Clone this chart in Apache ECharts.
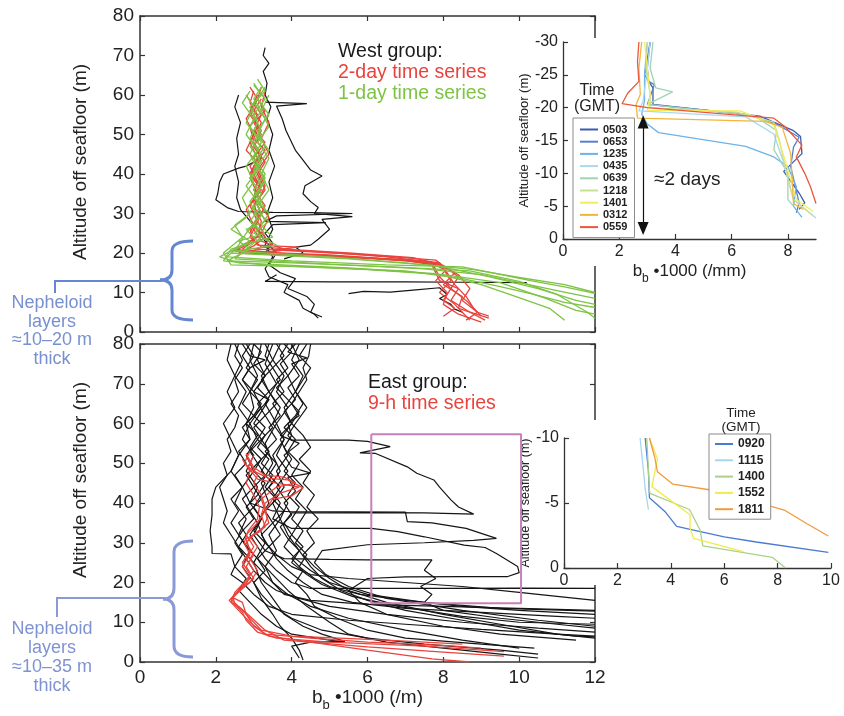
<!DOCTYPE html>
<html><head><meta charset="utf-8">
<script src="https://cdn.jsdelivr.net/npm/echarts@6/dist/echarts.min.js"></script>
<style>html,body{margin:0;padding:0;background:#fff}#c{width:844px;height:716px}</style>
</head><body><div id="c"></div>
<script>
// ---------------- DATA ----------------
// West group (top panel): profiles as [bb*1000, altitude m]
const westBlack = [
 [[3.3,72],[3.25,70],[3.4,68],[3.25,66],[3.35,63],[3.3,60],[3.45,57],[3.35,54],[3.5,50],[3.4,46],[3.55,42],[3.4,38],[3.5,34],[3.35,30],[3.5,26],[3.3,22],[3.5,19],[3.3,16],[3.4,14],[3.9,12],[3.8,10],[4.2,8],[4.3,6],[4.6,4.5],[4.7,3.5]],
 [[2.6,60],[2.5,57],[2.65,53],[2.55,49],[2.6,45],[2.5,42],[2.6,38],[2.55,34],[2.65,31],[3.0,27],[3.3,23],[3.6,20],[3.4,17],[3.7,15],[4.1,13.5],[3.9,11],[4.4,9],[4.6,7],[4.5,5],[4.8,3.8]],
 [[3.3,58.2],[4.4,57.8],[3.6,57.2],[3.75,54],[3.85,51],[4.0,48],[4.1,46],[4.3,43.5],[4.5,41],[4.8,39.5],[4.35,37],[4.3,35],[4.5,33],[4.7,31.5],[4.6,30],[5.6,29.2],[4.8,28.5],[5.0,26],[4.7,23.5],[4.5,22],[4.1,21.5],[4.3,20],[3.8,18.5]],
 [[3.2,44],[2.8,42],[2.6,41.5],[2.2,40],[2.1,38],[2.05,35],[2.0,33.5],[2.3,31.5],[2.6,30.5],[3.5,30.3],[4.5,30.2],[5.6,30],[3.6,29.4],[3.3,28],[4.9,27.7],[3.5,27.2],[3.3,25],[3.5,22.5],[3.3,20]],
 [[3.6,14.5],[3.3,12.8],[5.0,12.7],[7.0,12.7],[8.5,12.6],[10.2,12.5]],
 [[5.5,9.7],[5.9,10.3],[6.6,10.1],[7.2,10.6],[7.9,11.2],[8.1,9.5],[7.9,8.5],[8.2,7],[8.3,5.8],[8.5,5]]
];
const westRed = [
 [[3.0,61],[2.9,58],[3.1,55],[2.9,52],[3.0,48],[3.2,45],[2.9,42],[3.1,38],[3.0,34],[3.2,30],[2.9,26],[3.0,23],[2.7,21],[3.5,20],[5.5,19],[7.5,18],[7.9,17.5],[8.1,15],[8.3,12],[8.6,9],[8.8,6],[9.0,4]],
 [[3.2,62],[3.1,59],[3.3,56],[3.0,53],[3.2,50],[3.0,47],[3.3,43],[3.1,40],[3.3,36],[3.0,32],[3.2,28],[3.1,24],[2.5,21],[3.0,20.3],[5.0,19.5],[7.0,18.2],[7.7,17],[7.9,13],[8.4,11],[8.2,8],[8.7,5],[9.1,3]],
 [[2.8,60],[3.0,57],[2.8,54],[3.0,50],[2.8,46],[3.1,43],[2.9,39],[3.1,35],[2.8,31],[3.0,27],[3.3,24],[3.5,22],[3.0,21],[4.5,20.5],[6.5,19],[7.6,17.8],[8.0,16],[8.2,13],[7.9,10],[8.3,7],[8.5,5],[8.7,3]],
 [[3.3,61],[3.2,57],[3.4,53],[3.2,49],[3.4,45],[3.1,41],[3.3,37],[3.1,33],[3.4,29],[3.2,25],[2.8,22],[2.5,20.5],[4.0,19.8],[6.0,18.8],[7.8,17.5],[8.3,15],[8.0,12],[8.5,9],[8.4,6],[9.2,3.5]],
 [[3.1,60],[2.9,56],[3.1,52],[2.9,48],[3.1,44],[2.9,40],[3.2,36],[2.9,32],[3.1,28],[2.9,24],[3.2,21.5],[4.0,21],[3.2,20],[5.0,19.2],[7.0,18.0],[8.0,16.8],[8.4,14],[8.2,11],[8.6,8],[8.9,5],[8.6,3]],
 [[2.9,62],[3.1,59],[2.9,55],[3.2,51],[3.0,47],[3.2,44],[2.9,40],[3.2,37],[3.0,33],[3.1,29],[2.9,25],[3.1,22],[4.2,21.5],[3.5,20.8],[6.0,19.5],[7.8,18.2],[8.1,16],[7.8,13],[8.1,10],[8.0,7],[8.4,4.5],[9.0,2.5]],
 [[3.0,58],[3.2,55],[3.0,51],[3.3,48],[3.0,44],[3.2,40],[3.0,36],[3.3,32],[3.1,28],[3.3,24],[3.0,21.8],[2.6,20],[4.5,19.3],[6.8,18.4],[7.9,17.2],[8.4,14.5],[8.7,11],[8.5,8],[8.9,5],[9.2,4]],
 [[3.2,59],[3.0,56],[3.2,53],[3.0,49],[3.3,46],[3.0,42],[3.2,38],[3.0,34],[3.2,30],[3.0,26],[3.2,23],[3.8,21],[5.5,20],[7.2,18.8],[7.7,17.6],[7.9,14],[8.2,11],[8.0,8],[8.3,6],[8.0,4]]
];
const westGreen = [
 [[3.0,63],[3.2,60],[2.9,57],[3.1,53],[2.9,49],[3.2,45],[3.0,41],[3.2,37],[2.9,33],[3.1,29],[2.8,25],[2.6,22],[2.3,19],[4.0,18],[6.5,17],[8.5,16.5],[9.4,14.8],[10.3,13],[11.2,11.4],[12,9.8]],
 [[3.3,62],[3.1,59],[3.4,55],[3.1,51],[3.3,47],[3.0,43],[3.3,39],[3.1,35],[3.3,31],[3.0,27],[3.2,24],[2.8,21],[2.5,18.5],[5.0,17.2],[7.5,16],[9.0,14.5],[10.0,12.5],[11.0,10.5],[12,8.5]],
 [[2.9,61],[2.7,58],[3.0,54],[2.8,50],[3.1,46],[2.8,42],[3.0,38],[2.7,34],[2.9,30],[2.5,27],[2.7,24],[2.2,20],[2.4,17],[4.5,16.5],[7.0,15.5],[8.5,13.5],[9.5,11.5],[10.3,9.7],[11.2,7.5],[12,6.2]],
 [[3.1,64],[3.3,61],[3.0,58],[3.3,54],[3.1,50],[3.4,46],[3.1,42],[3.3,38],[3.0,34],[3.4,30],[3.2,27],[3.5,24],[2.7,22],[2.4,20],[5.5,18.5],[7.8,16.8],[9.2,14],[10.5,11],[11.5,8],[12,7]],
 [[2.8,60],[3.0,57],[2.8,53],[3.1,49],[2.9,45],[3.1,41],[2.8,37],[3.1,33],[2.8,29],[2.4,26],[2.9,23],[2.1,19],[2.6,17.5],[5.5,16.2],[7.8,14.8],[9.0,12],[9.9,9],[10.8,6],[11.2,3]],
 [[3.2,62],[3.0,59],[3.2,56],[2.9,52],[3.2,48],[3.0,44],[3.3,40],[3.0,36],[3.2,32],[2.9,28],[3.3,25],[2.6,23],[2.9,21],[2.3,18],[4.0,17.5],[6.8,16.4],[8.7,15.5],[10.0,12.8],[11.0,9.5],[11.8,5],[12,3.5]],
 [[3.0,62.5],[3.3,59],[3.0,55],[3.2,51],[2.9,47],[3.2,43],[2.9,39],[3.2,35],[3.0,31],[3.4,28],[3.0,25],[3.6,22],[2.5,20.5],[5.0,19],[7.0,17.5],[8.8,15.8],[10.0,13.8],[11.2,12],[12,10]],
 [[3.4,60],[3.2,56],[3.4,52],[3.1,48],[3.4,44],[3.2,40],[3.4,36],[3.1,32],[3.3,28],[2.8,26],[3.1,23],[2.4,21],[2.2,18],[3.5,16.8],[6.0,15.8],[8.0,14.5],[9.5,12.5],[10.7,8.5],[11.5,5.5],[12,4.5]]
];
// East group (bottom panel)
const eastBlack = [
 [[2.6,80],[2.5,77],[2.7,74],[2.5,71],[2.6,68],[2.4,65],[2.6,62],[2.5,59],[2.3,56],[2.4,53],[2.2,50],[2.3,47],[2.1,44],[2.2,41],[2.3,38],[2.2,35],[2.4,32],[2.6,29],[2.8,26],[3.0,23],[3.3,20],[3.6,18],[4.2,16],[5.0,14],[6.5,12],[8.5,10],[10.5,8.5],[12,7.5]],
 [[3.0,80],[2.9,76],[3.1,72],[2.9,68],[3.0,64],[2.8,60],[2.9,56],[2.6,52],[2.4,48],[2.0,44],[1.9,41],[1.9,37],[1.85,33],[1.9,29],[1.9,27.3],[2.4,27.2],[2.5,24],[2.4,22],[2.7,20],[3.0,17],[3.4,14],[4.0,12],[5.5,10.5],[7.0,9.5],[9.0,8.2],[11,7],[12,6.5]],
 [[3.4,80],[3.3,77],[3.5,74],[3.2,71],[3.4,68],[3.1,65],[3.3,62],[3.0,59],[3.2,56],[2.9,53],[3.1,50],[2.8,47],[3.0,44],[2.7,41],[2.9,38],[2.6,35],[2.8,32],[2.6,29],[2.9,26],[3.2,23],[3.5,20],[3.9,17],[4.5,14],[5.5,11],[7.0,8],[8.5,5.5],[10.0,3.5]],
 [[3.9,80],[3.7,77],[3.9,74],[3.6,71],[3.8,68],[3.5,65],[3.7,62],[3.4,59],[3.6,56],[3.3,53],[3.6,50],[3.4,47],[3.7,44],[3.5,41],[3.8,38],[3.5,35],[3.7,32],[3.4,29],[3.6,26],[3.9,23],[4.3,20],[4.8,17],[5.6,15],[7.0,13.5],[9.0,12.5],[11,11.5],[12,11]],
 [[4.5,80],[4.45,77],[4.3,74],[4.4,71],[4.2,68],[4.0,65],[4.2,62],[3.9,60],[4.0,57],[3.8,54],[4.0,51],[3.8,48],[4.1,45],[3.9,42],[4.2,39],[4.0,36],[4.3,33],[4.1,30],[4.4,27],[4.2,24],[4.6,21],[5.0,19],[5.8,17],[7.0,15.5],[8.5,14],[10.0,13],[12,12]],
 [[2.8,80],[3.0,77],[2.8,74],[3.1,71],[2.9,68],[3.2,65],[3.0,62],[3.3,59],[3.1,56],[3.4,53],[3.2,50],[3.5,47],[3.3,44],[3.6,41],[3.3,38],[3.5,35],[3.2,32],[3.4,29],[3.1,26],[3.3,23],[3.0,20],[3.2,17],[3.5,14],[4.0,11],[4.8,8],[6.0,6],[7.5,4.5],[9.5,3.0],[10.5,2]],
 [[3.6,80],[3.8,77],[3.5,74],[3.7,71],[3.4,68],[3.6,65],[3.3,62],[3.5,59],[3.2,56],[3.4,53],[3.1,50],[3.3,47],[3.0,44],[3.2,41],[2.9,38],[3.1,35],[2.9,32],[3.1,29],[3.3,26],[3.6,23],[4.0,20],[4.5,18.5],[6.0,18.5],[8.0,18.5],[10,18.6],[12,18.5]],
 [[4.2,80],[4.0,76],[4.3,72],[4.1,68],[4.4,64],[4.1,60],[3.9,57],[4.0,55.8],[5.5,55.8],[6.0,55.5],[6.6,54.2],[5.8,52.6],[6.2,52.5],[7.05,49.1],[7.3,47.5],[7.75,45.8],[7.9,44],[8.2,40.8],[8.4,39],[8.8,37.2],[7.5,37.5],[6.0,37.6],[4.0,37.5],[3.8,35],[4.0,32],[3.8,29],[4.1,26],[4.5,23],[5.0,20],[6.0,17],[7.5,15],[9.5,13.5],[12,12.8]],
 [[3.2,80],[3.1,76],[3.3,72],[3.0,68],[3.2,64],[2.9,60],[3.1,56],[2.8,52],[3.0,48],[2.7,44],[2.9,40],[3.5,38],[4.0,37.8],[5.5,37.8],[7.0,37.7],[7.05,35.3],[7.7,35],[8.6,33.6],[9.4,31.1],[8.8,30.6],[7.5,30],[6.0,29.5],[4.8,28],[4.6,25],[4.9,22],[5.5,19],[6.5,16],[8.5,13],[10.5,10.5],[12,9]],
 [[3.7,80],[3.5,76],[3.8,72],[3.6,68],[3.9,64],[3.6,60],[3.8,56],[3.5,52],[3.7,48],[3.4,44],[3.7,40],[3.5,36],[4.0,33.6],[5.5,33.6],[6.1,33.6],[6.8,32.8],[7.5,31.5],[8.55,29.4],[9.1,28.8],[9.4,27.3],[9.96,24],[10.0,22.5],[9.7,21.5],[8.5,21.5],[7.0,21.4],[6.0,21],[5.5,18],[5.8,15],[6.5,12],[8.0,9],[9.5,7],[11.5,5.5]],
 [[2.5,80],[2.7,76],[2.5,72],[2.8,68],[2.6,64],[2.9,60],[2.7,56],[3.0,52],[2.8,48],[3.1,44],[2.9,40],[3.2,36],[3.0,32],[3.3,28],[3.8,26],[5.0,25.8],[6.0,25.7],[7.7,25.7],[7.5,23.1],[7.8,21],[7.4,19],[7.7,17],[7.5,15],[8.0,13],[9.5,11],[11,9.5],[12,8.5]],
 [[4.0,80],[4.2,76],[3.9,72],[4.1,68],[3.8,64],[4.0,60],[3.7,56],[3.9,52],[3.6,48],[3.8,44],[3.5,40],[3.7,36],[3.4,32],[3.6,28],[3.3,24],[3.5,20],[3.8,17],[4.5,15.5],[6.0,14.5],[8.0,14],[10,13.5],[12,13]],
 [[2.4,80],[2.3,76],[2.5,72],[2.3,68],[2.5,64],[2.2,60],[2.4,56],[2.6,52],[2.4,48],[2.7,44],[2.5,40],[2.8,36],[2.6,32],[2.9,28],[2.7,24],[3.0,20],[3.2,16],[3.5,12],[3.7,9],[4.0,6],[4.2,3],[4.3,0.5]],
 [[3.3,80],[3.5,76],[3.2,72],[3.4,68],[3.7,64],[3.5,60],[3.8,56],[3.6,52],[3.9,48],[3.6,44],[3.9,40],[3.7,36],[3.9,32],[4.2,28],[4.5,24],[4.8,21],[5.3,18],[6.0,15.5],[7.0,13],[8.5,10.5],[10,8],[11.5,6.5],[12,6.3]],
 [[2.9,80],[2.7,77],[2.9,74],[2.7,71],[2.9,68],[2.7,65],[3.0,62],[2.7,59],[2.9,56],[2.6,53],[2.8,50],[2.5,47],[2.7,44],[2.4,41],[2.6,38],[2.4,35],[2.6,32],[2.8,29],[3.1,26],[3.5,22],[3.9,18],[4.4,14],[5.0,10],[5.5,7],[6.5,5],[8,3.5],[9.5,2],[10.5,1]],
 [[4.4,80],[4.2,77],[4.5,74],[4.3,71],[4.1,68],[4.3,65],[4.1,62],[3.8,59],[4.1,56],[3.9,53],[4.2,50],[4.0,47],[4.3,44],[4.1,41],[4.4,38],[4.2,35],[4.0,32],[4.3,29],[4.0,26],[4.3,23],[4.1,20],[4.4,17],[4.6,14],[5.2,11],[6.0,8],[7.0,6],[9.0,4.5],[10.4,3.5]],
 [[3.5,80],[3.3,75],[3.6,70],[3.3,65],[3.6,60],[3.3,55],[3.5,50],[3.2,45],[3.4,40],[3.1,35],[3.3,30],[3.0,25],[3.2,20],[3.5,16],[3.8,12],[4.3,9],[4.8,7],[5.4,5.2],[4.5,5],[4.0,4],[4.2,1]],
 [[3.0,80],[3.2,78],[3.0,75],[3.3,72],[3.1,69],[3.4,66],[3.2,63],[3.0,60],[3.3,57],[3.1,54],[3.4,51],[3.2,48],[3.5,45],[3.2,42],[3.0,39],[3.2,36],[3.0,33],[3.3,30],[3.6,27],[4.0,24],[4.5,22],[5.5,21],[7.0,20],[8.5,19],[10,17.5],[11.5,16],[12,15.5]],
 [[3.8,80],[4.0,78],[3.7,75],[3.9,72],[3.6,69],[3.9,66],[4.2,63],[4.0,60],[4.3,57],[4.5,54],[4.2,51],[4.5,48],[4.3,45],[4.6,42],[4.4,39],[4.7,36],[4.4,33],[4.6,30],[4.3,27],[4.6,24],[5.0,21],[5.5,18],[6.5,15],[8.0,12],[9.5,9.5],[11,7],[12,6]],
 [[2.7,80],[2.9,77],[3.3,76],[2.9,74],[2.7,71],[3.0,68],[3.4,66],[3.1,63],[2.8,60],[3.1,57],[2.9,54],[3.2,51],[3.0,48],[3.3,45],[3.1,42],[2.8,39],[3.0,36],[2.7,33],[2.5,30],[2.7,27],[2.5,24],[2.8,21],[2.6,18],[2.9,15],[3.2,12],[3.6,9],[4.0,7],[5.0,5.5],[5.4,5.1]],
 [[4.1,80],[3.9,78],[4.4,76.5],[4.0,75],[4.2,72],[3.9,69],[4.1,66],[3.8,63],[4.0,60],[3.7,57],[4.2,55],[3.8,52],[4.0,49],[4.5,47.5],[3.9,46.5],[4.1,43],[3.8,40],[4.0,37],[3.7,34],[3.9,31],[4.2,28],[4.0,25],[4.4,22],[4.8,19.5],[5.6,16.5],[6.8,14],[8.5,11.5],[10,10],[12,9.5]]
];
const eastRed = [
 [[2.8,52.5],[2.9,50],[3.1,47],[3.0,45],[3.2,42],[3.3,39],[3.35,36],[3.2,33],[2.8,31],[2.9,28],[2.7,25],[2.9,22],[2.8,19.5],[2.45,16.5],[2.5,14.5],[2.7,12.5],[2.8,10.5],[3.1,7.5],[3.6,6],[5.0,5.0],[7.5,4.0],[9.6,2.6]],
 [[2.9,53],[2.75,50],[3.0,48],[3.4,46.2],[3.9,45.8],[4.3,43.8],[4.0,41.8],[3.5,41],[3.3,38],[3.4,35],[3.0,32],[2.8,30],[3.0,27],[2.8,24],[3.0,21],[2.7,18.5],[2.4,15.8],[2.6,14],[2.9,11.5],[3.3,8],[3.8,5.5],[6.0,3.8],[8.0,2.5],[9.6,1.5]],
 [[3.0,52],[2.85,49],[3.1,46],[3.6,45],[4.2,44],[3.7,42.5],[3.3,40],[3.2,37],[3.3,34],[2.9,31.5],[3.1,29],[2.9,26],[3.1,23],[2.9,20],[2.5,17],[2.35,15.5],[2.7,13],[3.0,10],[3.2,8],[4.0,6.5],[6.5,5.5],[8.5,4.5]],
 [[2.7,51],[2.9,48],[2.8,45],[3.0,42],[3.15,39],[3.1,36],[2.85,33],[2.75,30],[2.9,27],[2.7,24],[2.9,21],[2.6,18],[2.45,16.2],[2.7,15],[2.8,12],[3.0,9],[3.4,6.5],[4.5,5],[6.0,3],[7.7,0.8],[8.7,0]],
 [[2.85,51.5],[3.0,49],[3.3,47],[3.8,46.5],[4.1,45],[3.6,44],[3.2,41],[3.3,38],[3.1,35],[2.8,32],[3.0,29],[2.8,26],[3.0,23],[2.75,20],[2.5,17.5],[2.4,15],[2.6,13],[2.9,10],[3.3,7],[4.5,6],[6.0,5],[8.0,4.2],[9.0,3.5]]
];
const zoomBox = [[6.1,57.3],[10.05,57.3],[10.05,14.8],[6.1,14.8],[6.1,57.3]];

// Top inset (west, 2-day)
const westTimes = ['0503','0653','1235','0435','0639','1218','1401','0312','0559'];
const westTimeColors = ['#3d5cb0','#5a7ecf','#6db3ea','#abd7ef','#a0d3b6','#c8e092','#f4ec5c','#f3b53e','#ea583c'];
const westInset = [
 [[3.1,-30],[2.9,-25],[3.2,-23],[3.2,-20.5],[7.0,-18.7],[8.2,-16.5],[8.45,-15.6],[8.5,-13],[7.85,-10.3],[8.4,-7],[8.6,-5.5],[8.4,-4.5]],
 [[3.1,-30],[3.0,-26],[3.05,-24],[3.25,-23.5],[3.0,-20.5],[6.5,-19],[7.6,-17.5],[8.4,-15.5],[8.2,-14],[8.1,-11],[8.4,-5.5],[8.3,-4]],
 [[3.0,-30],[2.9,-25],[2.9,-21],[2.8,-19],[3.0,-17.5],[3.4,-16.2],[6.5,-14.1],[7.5,-12.5],[8.0,-11],[8.3,-8],[8.2,-5],[8.5,-3.3]],
 [[3.1,-30],[3.0,-26],[2.85,-21],[2.7,-19.5],[6.5,-18.6],[7.5,-16],[7.9,-11],[8.2,-6],[9.0,-3.2]],
 [[3.2,-30],[3.1,-26],[3.3,-23],[3.9,-22.4],[3.0,-20.5],[6.8,-18.8],[7.6,-16.5],[7.5,-13.6],[8.0,-10],[8.0,-6],[8.2,-5]],
 [[3.0,-30],[2.95,-26],[3.1,-22],[3.1,-20],[6.2,-19.3],[7.5,-17.8],[7.7,-15],[8.0,-9],[8.2,-6],[8.9,-3.5]],
 [[2.9,-30],[3.0,-26],[3.1,-22],[3.0,-19.6],[6.3,-19.5],[7.5,-17.4],[7.9,-12],[8.3,-6],[8.9,-4.2]],
 [[2.8,-30],[2.7,-26],[2.75,-22],[2.6,-20.5],[2.65,-18.4],[7.2,-17.9],[7.8,-17],[8.1,-13],[8.2,-5.4],[8.55,-4.5]],
 [[2.7,-30],[2.65,-27],[2.7,-24],[2.3,-22.2],[2.1,-20.6],[3.0,-20],[7.5,-18.4],[7.9,-17.1],[8.5,-14.3],[8.3,-12.5],[8.6,-10],[8.8,-8],[9.0,-5.4]]
];
const arrowSpan = [[2.85,-17.8],[2.85,-1.6]];

// Bottom inset (east, 9-h)
const eastTimes = ['0920','1115','1400','1552','1811'];
const eastTimeColors = ['#4a7bd2','#a8d6ee','#a9d18c','#f1ea4c','#f19a3e'];
const eastInset = [
 [[3.04,-10],[3.16,-7.5],[3.2,-5.4],[3.8,-4.3],[4.22,-3.2],[6.0,-2.4],[7.2,-2.0],[9.9,-1.2]],
 [[2.85,-10],[3.0,-7],[3.04,-6.1],[3.16,-4.5]],
 [[3.1,-10],[3.2,-6.0],[3.22,-5.74],[4.7,-4.5],[5.1,-2.9],[5.2,-1.7],[7.8,-0.82],[8.3,0]],
 [[3.2,-10],[3.5,-8.4],[3.29,-6.26],[4.72,-4.1],[4.72,-3.1],[4.85,-2.28],[6.72,-1.26]],
 [[3.2,-10],[3.4,-8.5],[3.5,-7.4],[4.07,-6.46],[5.5,-6.0],[7.5,-4.9],[8.25,-4.46],[9.1,-3.4],[9.9,-2.46]]
];

// ---------------- CHART ----------------
const F = '"Liberation Sans", Arial, Helvetica, sans-serif';
const AX = '#333';
const AXI = [0, 2, 4, 5]; // first x/y axis index belonging to each grid
const chart = echarts.init(document.getElementById('c'), null, {renderer: 'canvas'});

function xAx(grid, pos, min, max, showLabel, extra) {
  return Object.assign({
    gridIndex: grid, type: 'value', position: pos, min: min, max: max, interval: 2,
    axisLine: {show: true, onZero: false, lineStyle: {color: AX, width: 1.5}},
    axisTick: {show: true, inside: true, length: 5, lineStyle: {color: AX, width: 1.2}},
    axisLabel: {show: showLabel, color: '#222', fontFamily: F, fontSize: 19, margin: 6},
    splitLine: {show: false}
  }, extra || {});
}
function yAx(grid, pos, min, max, interval, showLabel, extra) {
  return Object.assign({
    gridIndex: grid, type: 'value', position: pos, min: min, max: max, interval: interval,
    axisLine: {show: true, onZero: false, lineStyle: {color: AX, width: 1.5}},
    axisTick: {show: true, inside: true, length: 5, lineStyle: {color: AX, width: 1.2}},
    axisLabel: {show: showLabel, color: '#222', fontFamily: F, fontSize: 19, margin: 6},
    splitLine: {show: false}
  }, extra || {});
}
function bbName(unit, big, small) {
  return {
    name: '{m|b}{s|b}{m| \u20221000 (' + unit + ')}',
    nameLocation: 'middle',
    nameTextStyle: {rich: {
      m: {fontSize: big, fontFamily: F, color: '#222', lineHeight: big + 3, verticalAlign: 'top'},
      s: {fontSize: small, fontFamily: F, color: '#222', lineHeight: small, padding: [Math.round(big * 0.6), 0, 0, 0], verticalAlign: 'top'}
    }}
  };
}

const series = [];
function addLines(list, grid, color, width, z) {
  list.forEach(p => series.push({
    type: 'line', xAxisIndex: AXI[grid], yAxisIndex: AXI[grid], data: p, symbol: 'none',
    lineStyle: {color: color, width: width}, silent: true, z: z, animation: false
  }));
}
addLines(westBlack, 0, '#151515', 1.2, 2);
addLines(westRed, 0, '#e8433d', 1.3, 2);
addLines(westGreen, 0, '#7dc344', 1.3, 2);
addLines(eastBlack, 1, '#151515', 1.2, 2);
addLines(eastRed, 1, '#e8433d', 1.3, 2);
series.push({type: 'line', xAxisIndex: AXI[1], yAxisIndex: AXI[1], data: zoomBox, symbol: 'none',
  lineStyle: {color: '#c97fba', width: 2}, silent: true, z: 3, animation: false});

westInset.forEach((p, i) => series.push({
  name: westTimes[i], type: 'line', xAxisIndex: AXI[2], yAxisIndex: AXI[2], data: p, symbol: 'none',
  color: westTimeColors[i], lineStyle: {color: westTimeColors[i], width: 1.3}, z: 4, animation: false
}));
series.push({type: 'line', xAxisIndex: AXI[2], yAxisIndex: AXI[2], data: [], symbol: 'none', z: 5, animation: false,
  markLine: {silent: true, symbol: ['triangle', 'triangle'], symbolSize: [11, 13], label: {show: false},
    lineStyle: {color: '#111', width: 1.2, type: 'solid'},
    data: [[{coord: arrowSpan[0]}, {coord: arrowSpan[1]}]], animation: false}
});
eastInset.forEach((p, i) => series.push({
  name: eastTimes[i], type: 'line', xAxisIndex: AXI[3], yAxisIndex: AXI[3], data: p, symbol: 'none',
  color: eastTimeColors[i], lineStyle: {color: eastTimeColors[i], width: 1.3}, z: 4, animation: false
}));

function brace(xr, xs, xt, y0, ym, y1, r, color) {
  const st = {fill: 'none', stroke: color, lineWidth: 3};
  const mk = (type, shape) => ({type: type, shape: shape, style: st, z: 10, silent: true});
  return [
    mk('bezierCurve', {x1: xr, y1: y0, cpx1: xs, cpy1: y0, x2: xs, y2: y0 + r}),
    mk('line', {x1: xs, y1: y0 + r, x2: xs, y2: ym - r}),
    mk('bezierCurve', {x1: xs, y1: ym - r, cpx1: xs, cpy1: ym, x2: xt, y2: ym}),
    mk('bezierCurve', {x1: xt, y1: ym, cpx1: xs, cpy1: ym, x2: xs, y2: ym + r}),
    mk('line', {x1: xs, y1: ym + r, x2: xs, y2: y1 - r}),
    mk('bezierCurve', {x1: xs, y1: y1 - r, cpx1: xs, cpy1: y1, x2: xr, y2: y1})
  ];
}

const insetLabel = {color: '#222', fontFamily: F, fontSize: 16, margin: 5};
const graphics = [
  {type: 'rect', shape: {x: 505, y: 38, width: 339, height: 228}, style: {fill: '#fff'}, z: 1, silent: true},
  {type: 'rect', shape: {x: 522, y: 420, width: 322, height: 165}, style: {fill: '#fff'}, z: 1, silent: true}
].concat(
  brace(193, 172, 160, 241, 280, 320, 10, '#6487d2'),
  brace(193, 174, 163, 541, 599, 657, 11, '#8b9ad6'),
  [
    {type: 'polyline', shape: {points: [[55, 293], [55, 281], [162, 281]]}, style: {fill: 'none', stroke: '#6487d2', lineWidth: 2}, z: 10, silent: true},
    {type: 'polyline', shape: {points: [[57, 617], [57, 598], [165, 598]]}, style: {fill: 'none', stroke: '#8b9ad6', lineWidth: 2}, z: 10, silent: true},
    {type: 'text', x: 52, y: 294, z: 10, silent: true,
     style: {text: 'Nepheloid\nlayers\n\u224810\u201320 m\nthick', fill: '#7890d0', fontSize: 18, fontFamily: F, lineHeight: 18.5, align: 'center', verticalAlign: 'top'}},
    {type: 'text', x: 52, y: 620, z: 10, silent: true,
     style: {text: 'Nepheloid\nlayers\n\u224810\u201335 m\nthick', fill: '#7f93d2', fontSize: 18, fontFamily: F, lineHeight: 19, align: 'center', verticalAlign: 'top'}},
    {type: 'text', x: 338, y: 52, z: 10, silent: true, style: {text: 'West group:', fill: '#1a1a1a', fontSize: 19.5, fontFamily: F, verticalAlign: 'middle'}},
    {type: 'text', x: 338, y: 73, z: 10, silent: true, style: {text: '2-day time series', fill: '#e8433d', fontSize: 19.5, fontFamily: F, verticalAlign: 'middle'}},
    {type: 'text', x: 338, y: 94, z: 10, silent: true, style: {text: '1-day time series', fill: '#7dc344', fontSize: 19.5, fontFamily: F, verticalAlign: 'middle'}},
    {type: 'text', x: 368, y: 383, z: 10, silent: true, style: {text: 'East group:', fill: '#1a1a1a', fontSize: 19.5, fontFamily: F, verticalAlign: 'middle'}},
    {type: 'text', x: 368, y: 404, z: 10, silent: true, style: {text: '9-h time series', fill: '#e8433d', fontSize: 19.5, fontFamily: F, verticalAlign: 'middle'}},
    {type: 'text', x: 597, y: 99, z: 10, silent: true, style: {text: 'Time\n(GMT)', fill: '#222', fontSize: 16, fontFamily: F, lineHeight: 16, align: 'center', verticalAlign: 'middle'}},
    {type: 'text', x: 741, y: 420, z: 10, silent: true, style: {text: 'Time\n(GMT)', fill: '#222', fontSize: 13.5, fontFamily: F, lineHeight: 14, align: 'center', verticalAlign: 'middle'}},
    {type: 'text', x: 654, y: 180, z: 10, silent: true, style: {text: '\u22482 days', fill: '#222', fontSize: 19, fontFamily: F, verticalAlign: 'middle'}}
  ]
);

const option = {
  animation: false,
  backgroundColor: '#fff',
  grid: [
    {left: 140, top: 16, width: 455, height: 316, outerBoundsMode: 'none'},
    {left: 140, top: 344, width: 455, height: 318, outerBoundsMode: 'none'},
    {left: 563, top: 42, width: 253, height: 197, outerBoundsMode: 'none'},
    {left: 564, top: 438, width: 267, height: 130, outerBoundsMode: 'none'}
  ],
  xAxis: [
    xAx(0, 'bottom', 0, 12, false),
    xAx(0, 'top', 0, 12, false),
    xAx(1, 'bottom', 0, 12, true, Object.assign(bbName('/m', 19, 13), {nameGap: 26})),
    xAx(1, 'top', 0, 12, false),
    xAx(2, 'bottom', 0, 9, true, Object.assign(bbName('/mm', 17, 12), {nameGap: 24, z: 3,
      axisLabel: Object.assign({showMaxLabel: false}, insetLabel),
      axisLine: {show: true, onZero: false, lineStyle: {color: AX, width: 1.3}}})),
    xAx(3, 'bottom', 0, 10, true, {z: 3, axisLabel: insetLabel,
      axisLine: {show: true, onZero: false, lineStyle: {color: AX, width: 1.3}}})
  ],
  yAxis: [
    yAx(0, 'left', 0, 80, 10, true, {name: 'Altitude off seafloor (m)', nameLocation: 'middle', nameGap: 50,
      nameTextStyle: {fontSize: 19, fontFamily: F, color: '#222', padding: [0, 0, 0, 24]}}),
    yAx(0, 'right', 0, 80, 10, false),
    yAx(1, 'left', 0, 80, 10, true, {name: 'Altitude off seafloor (m)', nameLocation: 'middle', nameGap: 50,
      nameTextStyle: {fontSize: 19, fontFamily: F, color: '#222', padding: [0, 0, 0, 46]}}),
    yAx(1, 'right', 0, 80, 10, false),
    yAx(2, 'left', -30, 0, 5, true, {inverse: true, z: 3, axisLabel: insetLabel,
      axisLine: {show: true, onZero: false, lineStyle: {color: AX, width: 1.3}},
      name: 'Altitude off seafloor (m)', nameLocation: 'middle', nameGap: 31,
      nameTextStyle: {fontSize: 13, fontFamily: F, color: '#222'}}),
    yAx(3, 'left', -10, 0, 5, true, {inverse: true, z: 3, axisLabel: insetLabel,
      axisLine: {show: true, onZero: false, lineStyle: {color: AX, width: 1.3}},
      name: 'Altitude off seafloor (m)', nameLocation: 'middle', nameGap: 27,
      nameTextStyle: {fontSize: 12.5, fontFamily: F, color: '#222'}})
  ],
  legend: [
    {data: westTimes, orient: 'vertical', left: 573, top: 118, padding: [6, 7, 5, 7], icon: 'rect',
     itemWidth: 18, itemHeight: 2, itemGap: 1.2, borderColor: '#8a8a8a', borderWidth: 1,
     backgroundColor: '#fff', selectedMode: false, z: 6,
     textStyle: {fontSize: 11, fontWeight: 'bold', lineHeight: 11, fontFamily: F, color: '#222'}},
    {data: eastTimes, orient: 'vertical', left: 709, top: 434, padding: [4, 6, 4, 6], icon: 'rect',
     itemWidth: 18, itemHeight: 2, itemGap: 4.3, borderColor: '#8a8a8a', borderWidth: 1,
     backgroundColor: '#fff', selectedMode: false, z: 6,
     textStyle: {fontSize: 12, fontWeight: 'bold', lineHeight: 12, fontFamily: F, color: '#222'}}
  ],
  graphic: graphics,
  series: series
};
chart.setOption(option);
</script>
</body></html>
